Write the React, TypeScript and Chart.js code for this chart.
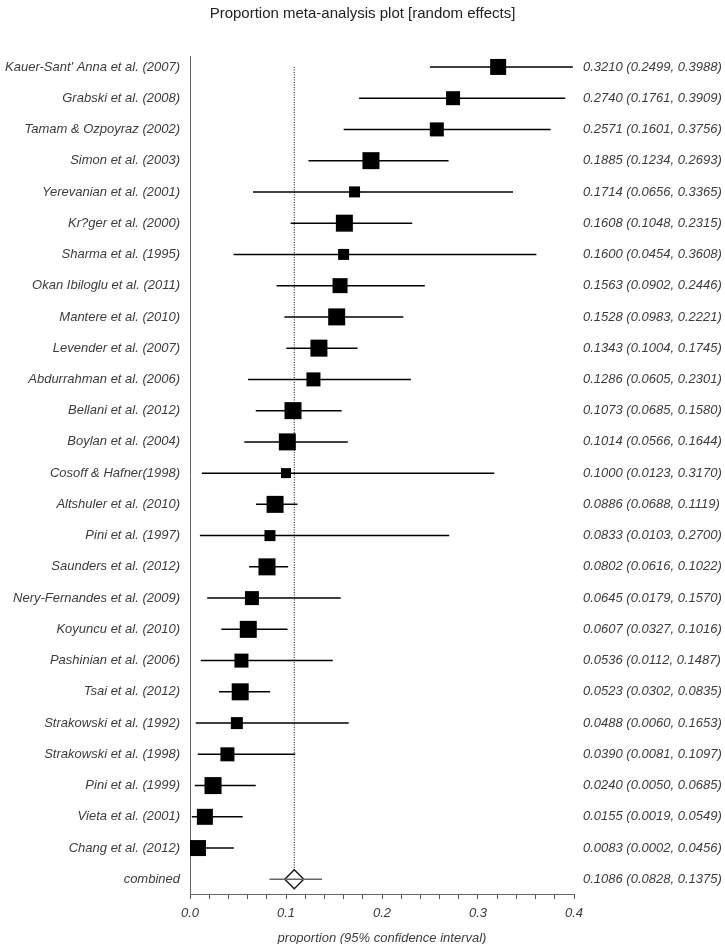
import React, { useEffect, useRef } from 'react';
import { Chart, registerables } from 'chart.js';

Chart.register(...registerables);

const studies = [
  "Kauer-Sant' Anna et al. (2007)",
  'Grabski et al. (2008)',
  'Tamam & Ozpoyraz (2002)',
  'Simon et al. (2003)',
  'Yerevanian et al. (2001)',
  'Kr?ger et al. (2000)',
  'Sharma et al. (1995)',
  'Okan Ibiloglu et al. (2011)',
  'Mantere et al. (2010)',
  'Levender et al. (2007)',
  'Abdurrahman et al. (2006)',
  'Bellani et al. (2012)',
  'Boylan et al. (2004)',
  'Cosoff & Hafner(1998)',
  'Altshuler et al. (2010)',
  'Pini et al. (1997)',
  'Saunders et al. (2012)',
  'Nery-Fernandes et al. (2009)',
  'Koyuncu et al. (2010)',
  'Pashinian et al. (2006)',
  'Tsai et al. (2012)',
  'Strakowski et al. (1992)',
  'Strakowski et al. (1998)',
  'Pini et al. (1999)',
  'Vieta et al. (2001)',
  'Chang et al. (2012)',
];

const estimates = [
  0.321, 0.274, 0.2571, 0.1885, 0.1714, 0.1608, 0.16, 0.1563, 0.1528, 0.1343,
  0.1286, 0.1073, 0.1014, 0.1, 0.0886, 0.0833, 0.0802, 0.0645, 0.0607, 0.0536,
  0.0523, 0.0488, 0.039, 0.024, 0.0155, 0.0083,
];

const lowerCI = [
  0.2499, 0.1761, 0.1601, 0.1234, 0.0656, 0.1048, 0.0454, 0.0902, 0.0983, 0.1004,
  0.0605, 0.0685, 0.0566, 0.0123, 0.0688, 0.0103, 0.0616, 0.0179, 0.0327, 0.0112,
  0.0302, 0.006, 0.0081, 0.005, 0.0019, 0.0002,
];

const upperCI = [
  0.3988, 0.3909, 0.3756, 0.2693, 0.3365, 0.2315, 0.3608, 0.2446, 0.2221, 0.1745,
  0.2301, 0.158, 0.1644, 0.317, 0.1119, 0.27, 0.1022, 0.157, 0.1016, 0.1487,
  0.0835, 0.1653, 0.1097, 0.0685, 0.0549, 0.0456,
];

// relative study weights (drive the marker size)
const weights = [
  16, 14, 14, 17, 11, 17, 11, 15, 17, 17,
  14, 17, 17, 10, 17, 11, 17, 14, 17, 14,
  17, 12, 14, 17, 16, 16,
];

const combinedLabel = 'combined';
const combined = { est: 0.1086, lo: 0.0828, hi: 0.1375 };

const xTickStep = 0.02;
const xMin = 0;
const xMax = 0.4;

const titleText = 'Proportion meta-analysis plot [random effects]';
const xTitle = 'proportion (95% confidence interval)';

const FONT = "'Liberation Sans', Arial, Helvetica, sans-serif";
const TEXT = '#3c3c3c';

export default function App() {
  const ref = useRef<HTMLCanvasElement | null>(null);

  useEffect(() => {
    document.body.style.margin = '0';
    const canvas = ref.current;
    if (!canvas) return;

    const rowLabels = [...studies, combinedLabel];
    const allEst = [...estimates, combined.est];
    const allLo = [...lowerCI, combined.lo];
    const allHi = [...upperCI, combined.hi];
    const rightLabels = allEst.map(
      (e, i) => `${e.toFixed(4)} (${allLo[i].toFixed(4)}, ${allHi[i].toFixed(4)})`
    );
    const nRows = rowLabels.length;
    const combinedRow = nRows - 1;

    const squares = {
      type: 'scatter' as const,
      data: estimates.map((e, i) => ({ x: e, y: i })),
      pointStyle: 'rect',
      pointRadius: weights.map((w) => w / Math.SQRT2),
      pointHoverRadius: weights.map((w) => w / Math.SQRT2),
      backgroundColor: '#000',
      borderColor: '#000',
      borderWidth: 0,
      showLine: false,
    };

    const ciLine = (lo: number, hi: number, row: number, color: string, w: number) => ({
      type: 'line' as const,
      data: [
        { x: lo, y: row },
        { x: hi, y: row },
      ],
      borderColor: color,
      borderWidth: w,
      pointRadius: 0,
      fill: false,
    });

    const combinedCI = ciLine(combined.lo, combined.hi, combinedRow, '#666', 1.5);

    const diamond = {
      type: 'scatter' as const,
      data: [{ x: combined.est, y: combinedRow }],
      pointStyle: 'rectRot',
      pointRadius: 9.5,
      backgroundColor: '#fff',
      borderColor: '#111',
      borderWidth: 1.4,
      showLine: false,
    };

    const studyCIs = estimates.map((_, i) => ciLine(lowerCI[i], upperCI[i], i, '#000', 1.5));

    const refLine = {
      type: 'line' as const,
      data: [
        { x: combined.est, y: 0 },
        { x: combined.est, y: combinedRow },
      ],
      borderColor: '#000',
      borderWidth: 1,
      borderDash: [1, 1.5],
      pointRadius: 0,
      fill: false,
    };

    const yMin = -0.35;
    const yMax = combinedRow + 0.47;

    const chart = new Chart(canvas, {
      type: 'scatter',
      data: {
        datasets: [squares, combinedCI, diamond, ...studyCIs, refLine] as any,
      },
      options: {
        responsive: false,
        animation: false,
        events: [],
        layout: { padding: 0 },
        plugins: {
          legend: { display: false },
          tooltip: { enabled: false },
          title: {
            display: true,
            text: titleText,
            color: '#222',
            font: { family: FONT, size: 15, weight: 'normal' },
            padding: { top: 5, bottom: 33 },
          },
        },
        scales: {
          x: {
            type: 'linear',
            position: 'bottom',
            min: xMin,
            max: xMax,
            afterFit: (s: any) => {
              s.height = 50;
            },
            ticks: {
              stepSize: xTickStep,
              autoSkip: false,
              maxRotation: 0,
              padding: 7,
              color: TEXT,
              font: { family: FONT, size: 13, style: 'italic' },
              callback: (v: any) => {
                const n = Number(v) * 10;
                return Math.abs(n - Math.round(n)) < 1e-6 ? Number(v).toFixed(1) : '';
              },
            },
            grid: {
              display: true,
              drawOnChartArea: false,
              drawTicks: true,
              tickLength: 5,
              color: '#555',
            },
            border: { display: true, color: '#666', width: 1 },
            title: {
              display: true,
              text: xTitle,
              color: TEXT,
              font: { family: FONT, size: 13, style: 'italic' },
              padding: { top: 0, bottom: -2 },
            },
          },
          y: {
            type: 'linear',
            position: 'left',
            reverse: true,
            min: yMin,
            max: yMax,
            afterFit: (s: any) => {
              s.width = 190;
            },
            afterBuildTicks: (s: any) => {
              s.ticks = rowLabels.map((_, i) => ({ value: i }));
            },
            ticks: {
              autoSkip: false,
              padding: 10,
              color: TEXT,
              font: { family: FONT, size: 13, style: 'italic' },
              callback: (v: any) => rowLabels[Math.round(Number(v))] ?? '',
            },
            grid: { display: false, drawTicks: false },
            border: { display: true, color: '#666', width: 1 },
          },
          yR: {
            type: 'linear',
            position: 'right',
            reverse: true,
            min: yMin,
            max: yMax,
            afterFit: (s: any) => {
              s.width = 151;
            },
            afterBuildTicks: (s: any) => {
              s.ticks = rightLabels.map((_, i) => ({ value: i }));
            },
            ticks: {
              autoSkip: false,
              padding: 9,
              color: TEXT,
              font: { family: FONT, size: 13, style: 'italic' },
              callback: (v: any) => rightLabels[Math.round(Number(v))] ?? '',
            },
            grid: { display: false, drawTicks: false },
            border: { display: false },
          },
        },
      } as any,
    });

    return () => chart.destroy();
  }, []);

  return (
    <div style={{ width: 725, height: 944 }}>
      <canvas ref={ref} width={725} height={944} style={{ display: 'block' }} />
    </div>
  );
}
